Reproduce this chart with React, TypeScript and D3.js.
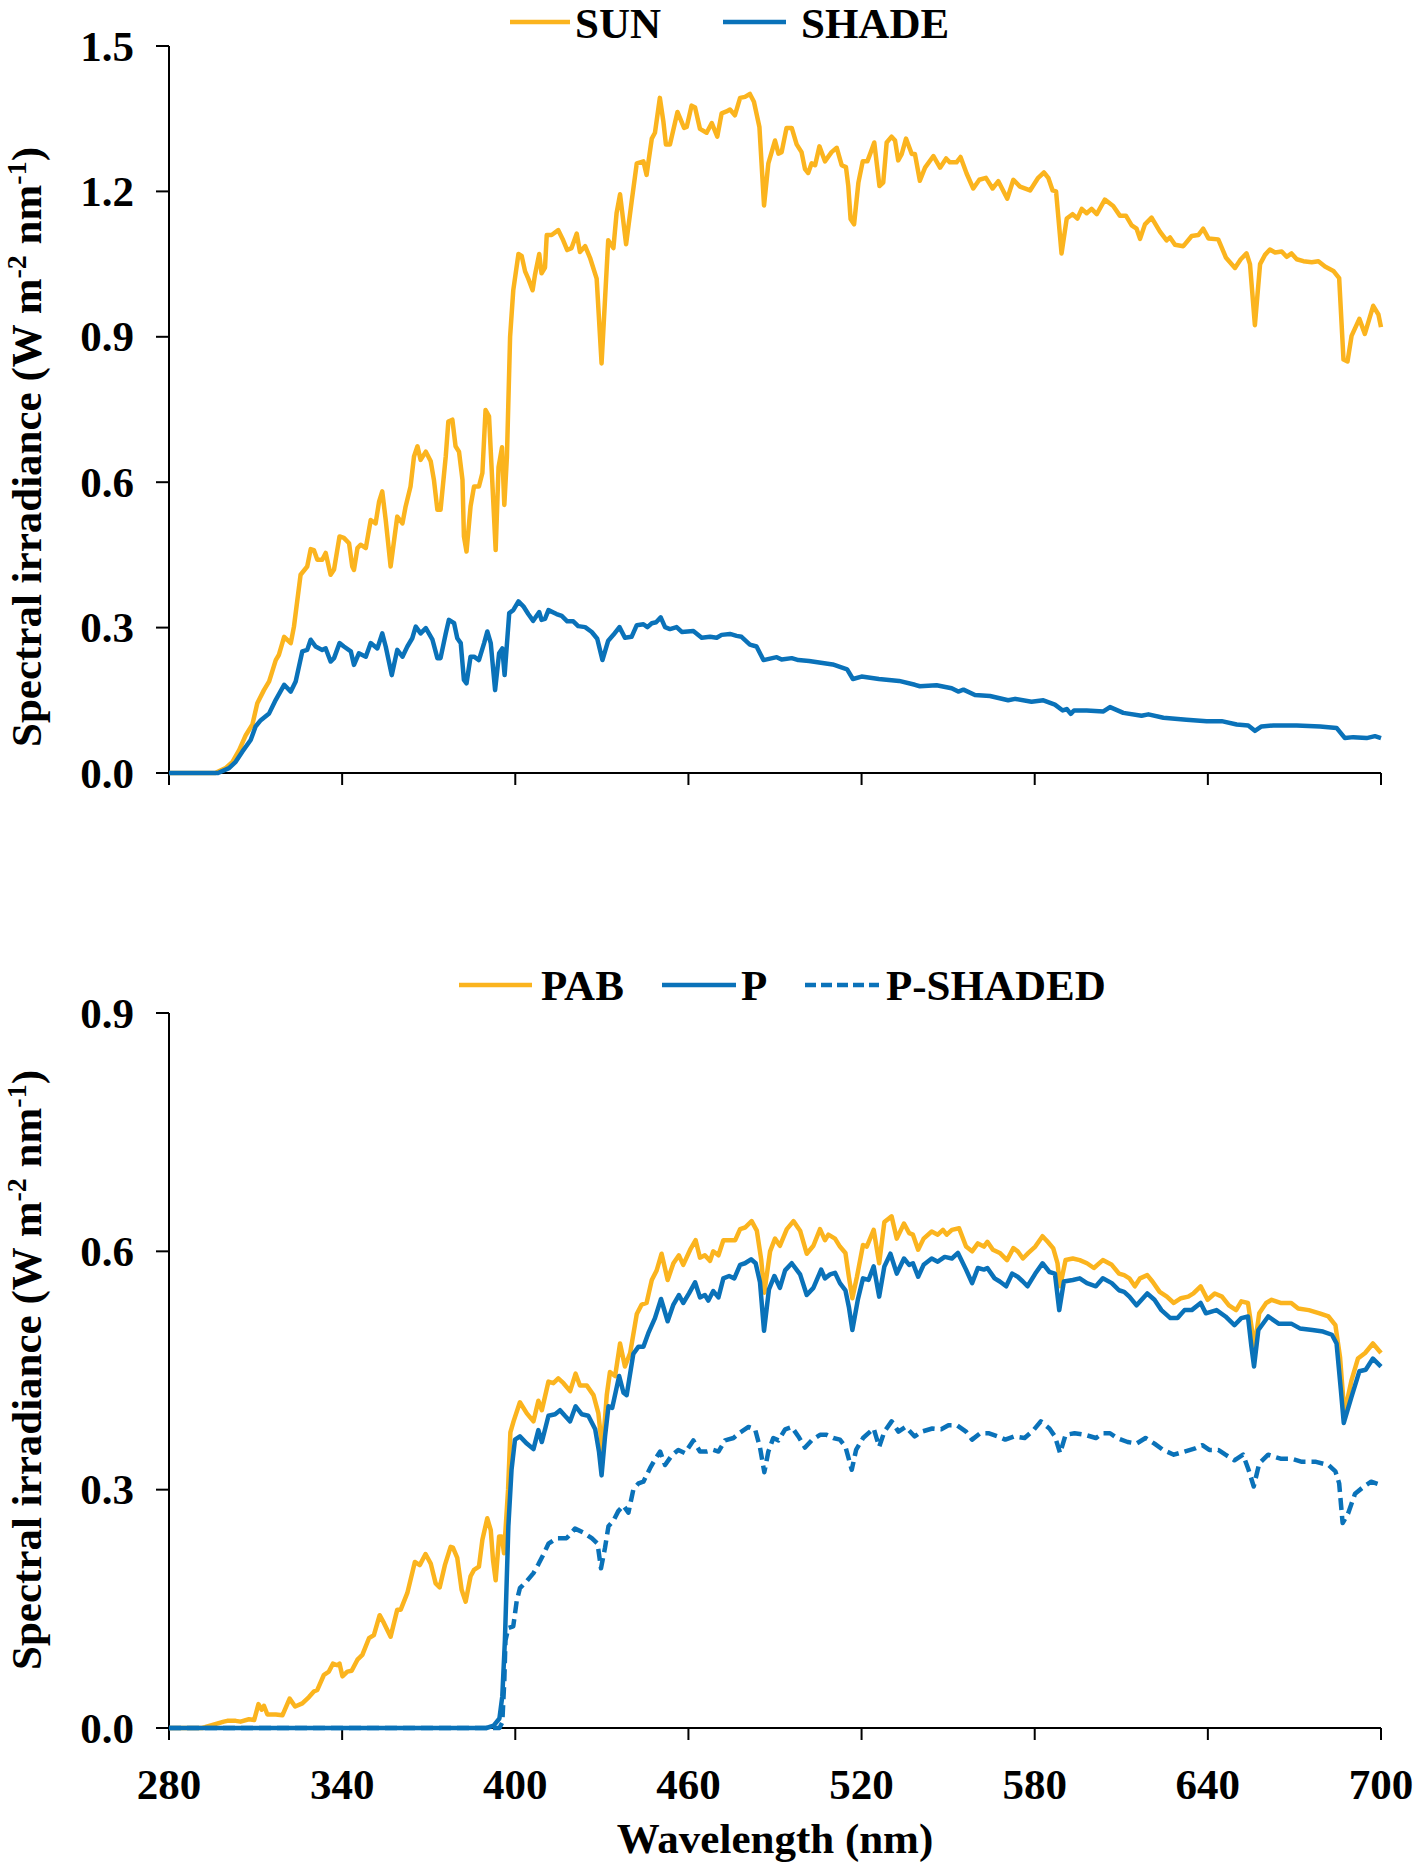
import React from "react";
import * as d3 from "d3";

type P = [number, number];

const X_TICKS = [280, 340, 400, 460, 520, 580, 640, 700];
const Y_TICKS_TOP = [0, 0.3, 0.6, 0.9, 1.2, 1.5];
const Y_TICKS_BOTTOM = [0, 0.3, 0.6, 0.9];

const SUN: P[] = [
[280,0],[296,0],[299.6,0.01],[302,0.023],[304.3,0.047],[306.6,0.078],[308.9,0.10],[310.6,0.144],[312.9,0.171],[314.7,0.189],[317,0.233],[318.1,0.244],[319.9,0.281],[322.2,0.268],[323.3,0.302],[325.6,0.409],[327.9,0.426],[329.1,0.462],[330.2,0.46],[331.4,0.44],[333.1,0.44],[334.3,0.454],[336,0.409],[337.2,0.42],[339.1,0.488],[340.6,0.485],[342.4,0.474],[343.5,0.426],[344.1,0.419],[345.3,0.464],[346.4,0.471],[348.2,0.464],[349.9,0.522],[351.6,0.515],[352.8,0.56],[353.9,0.581],[355.1,0.522],[356.8,0.426],[359.1,0.529],[360.9,0.515],[362,0.55],[363.7,0.591],[364.9,0.653],[366.1,0.674],[367.2,0.646],[369,0.663],[370.7,0.643],[371.8,0.605],[373,0.543],[374.1,0.543],[375.9,0.653],[376.8,0.725],[378.2,0.729],[379.3,0.674],[380.5,0.663],[381.7,0.605],[382.2,0.488],[383.1,0.457],[384.5,0.55],[385.7,0.591],[387.4,0.591],[388.6,0.619],[389.7,0.749],[390.9,0.736],[392,0.605],[393.2,0.46],[394.2,0.631],[395.4,0.672],[396.2,0.553],[397.1,0.652],[398.2,0.90],[399.3,0.996],[401.1,1.071],[402.2,1.067],[403.4,1.035],[404.5,1.02],[406,0.996],[406.8,1.027],[408.3,1.071],[409.1,1.031],[410.3,1.043],[410.9,1.11],[412.6,1.11],[414.9,1.12],[416.6,1.099],[418,1.079],[419.5,1.083],[421.3,1.113],[422.4,1.075],[424.2,1.087],[425.9,1.063],[428.2,1.02],[429.9,0.845],[432.2,1.099],[434,1.083],[435.1,1.155],[436.3,1.194],[438.4,1.091],[440.3,1.178],[442.1,1.258],[444.4,1.262],[445.5,1.234],[447.3,1.309],[448.4,1.321],[450.1,1.393],[451.3,1.345],[452.2,1.297],[453.6,1.297],[456.2,1.364],[458.5,1.331],[459.4,1.333],[461.1,1.377],[462.3,1.373],[464,1.329],[466.3,1.321],[468.1,1.341],[470,1.313],[471.5,1.361],[473.2,1.365],[474.4,1.369],[476.1,1.357],[477.9,1.393],[479.6,1.395],[481.3,1.401],[482.7,1.385],[484.6,1.333],[486.2,1.171],[487.7,1.258],[490,1.305],[491.2,1.278],[492.3,1.281],[494,1.331],[495.8,1.331],[497.5,1.297],[499.2,1.281],[500.4,1.246],[501.5,1.238],[502.7,1.258],[503.9,1.254],[505.4,1.293],[507.3,1.262],[509.6,1.281],[511.4,1.29],[513.1,1.254],[514.6,1.25],[515.4,1.211],[516.2,1.143],[517.4,1.132],[518.9,1.218],[520.4,1.262],[522,1.262],[523.2,1.281],[524.4,1.301],[526.2,1.211],[527.5,1.218],[528.7,1.301],[530.4,1.313],[531.6,1.305],[532.7,1.264],[533.9,1.277],[535.4,1.309],[537.4,1.277],[538.5,1.277],[540.2,1.222],[542,1.249],[544.9,1.273],[547.2,1.249],[549.3,1.268],[550.6,1.26],[552.9,1.26],[554.3,1.271],[556.4,1.237],[558.7,1.206],[560.8,1.224],[563.1,1.228],[565.4,1.206],[567.4,1.221],[570.5,1.185],[572.6,1.224],[574.9,1.21],[578.4,1.202],[581.2,1.228],[583.2,1.239],[584.7,1.228],[586.2,1.202],[587.4,1.2],[589.3,1.072],[591.1,1.144],[593.1,1.153],[594.8,1.144],[596.3,1.164],[598,1.155],[599.7,1.164],[601.5,1.153],[604.3,1.183],[607.2,1.17],[609.5,1.15],[611.6,1.15],[613.6,1.13],[615.3,1.123],[616.5,1.102],[618.2,1.132],[620.5,1.146],[623.4,1.117],[625.7,1.099],[626.9,1.105],[628.6,1.09],[631.5,1.087],[634.4,1.108],[636.7,1.11],[638.4,1.123],[640.2,1.103],[643.6,1.101],[646.3,1.063],[649.4,1.042],[651.4,1.06],[653.4,1.072],[654.6,1.05],[656.3,0.924],[658.1,1.05],[659.8,1.069],[661.5,1.08],[663.3,1.074],[665.6,1.076],[667.3,1.065],[669,1.072],[670.8,1.06],[673.1,1.056],[676,1.054],[678.3,1.056],[680.6,1.045],[683.5,1.036],[685.5,1.021],[687,0.853],[688.4,0.849],[689.8,0.902],[692.5,0.937],[694.4,0.906],[697.3,0.964],[699.1,0.946],[700,0.92]
];

const SHADE: P[] = [
[280,0],[297,0],[300.8,0.01],[303.1,0.023],[305.4,0.044],[308.3,0.068],[310,0.096],[311.8,0.109],[314.7,0.123],[317,0.151],[319.9,0.182],[322.2,0.168],[323.9,0.189],[326.2,0.251],[327.9,0.254],[329.1,0.275],[330.8,0.261],[333.1,0.254],[334.3,0.257],[336,0.23],[337.2,0.237],[339.1,0.268],[340.6,0.261],[343,0.251],[344.1,0.223],[345.8,0.247],[348.2,0.24],[349.9,0.268],[352.2,0.257],[353.9,0.288],[355.1,0.261],[357.2,0.202],[359.1,0.254],[360.9,0.24],[362.6,0.261],[364.3,0.278],[365.5,0.302],[367.2,0.288],[369,0.299],[371.3,0.275],[373,0.237],[374.1,0.237],[375.9,0.288],[377,0.316],[378.8,0.309],[379.9,0.278],[381.1,0.268],[382.2,0.192],[383.1,0.185],[384.5,0.24],[385.7,0.24],[387.4,0.233],[389.2,0.268],[390.3,0.292],[391.5,0.268],[393,0.171],[394.4,0.247],[395.5,0.257],[396.3,0.202],[397.9,0.330],[399.3,0.336],[401.1,0.354],[402.8,0.344],[404.5,0.328],[406.2,0.314],[408.3,0.332],[409.1,0.316],[410.3,0.318],[411.5,0.336],[414.3,0.328],[416.1,0.324],[418,0.313],[420.1,0.313],[421.8,0.303],[424.2,0.301],[426.5,0.291],[428.4,0.277],[430.2,0.233],[432.2,0.273],[434,0.285],[436.1,0.301],[438,0.279],[440.3,0.281],[442.1,0.305],[444.4,0.307],[445.8,0.301],[447.3,0.309],[448.8,0.311],[450.4,0.321],[451.9,0.301],[453.6,0.297],[455.9,0.301],[457.7,0.291],[461.7,0.293],[464.6,0.279],[467.5,0.281],[469.8,0.279],[471.5,0.285],[474.4,0.287],[476.7,0.283],[478.4,0.281],[481.3,0.265],[483.6,0.261],[486,0.233],[490.6,0.239],[492.3,0.234],[495.8,0.237],[498.1,0.233],[501.8,0.231],[510,0.224],[515,0.214],[517,0.194],[520,0.199],[526,0.194],[533,0.19],[538.5,0.182],[540.2,0.179],[546,0.181],[551.2,0.175],[553.5,0.168],[555.3,0.172],[559.3,0.161],[564.5,0.159],[570.8,0.150],[573.2,0.153],[578.9,0.147],[583,0.150],[587,0.141],[589.7,0.129],[591.1,0.132],[592.5,0.122],[593.6,0.129],[598,0.129],[603.8,0.127],[606.1,0.136],[610.7,0.124],[617,0.118],[619.4,0.121],[624.6,0.114],[632.6,0.11],[639.6,0.107],[644.8,0.107],[650,0.1],[654,0.098],[656.3,0.087],[658.6,0.096],[662.7,0.098],[670.8,0.098],[678.9,0.096],[684.6,0.093],[687.5,0.072],[690.4,0.074],[695,0.072],[697.9,0.076],[700,0.072]
];

const PAB: P[] = [
[280,0],[291.5,0],[293.9,0.0025],[299,0.008],[300.2,0.009],[303.1,0.009],[304.8,0.008],[307.7,0.011],[309.5,0.01],[311,0.03],[312.1,0.023],[312.9,0.028],[314.1,0.017],[317,0.017],[319.3,0.016],[321.8,0.037],[323.7,0.027],[326.2,0.031],[328.5,0.039],[330.2,0.046],[331.4,0.048],[333.7,0.067],[335.4,0.071],[336.8,0.081],[338.3,0.079],[339.1,0.081],[340.1,0.065],[341.8,0.071],[343.3,0.072],[345.3,0.086],[347,0.092],[349.3,0.113],[351,0.117],[353,0.142],[354.5,0.132],[356.8,0.115],[359.1,0.149],[360.3,0.149],[362.6,0.17],[365.2,0.209],[366.9,0.205],[368.9,0.219],[370.7,0.207],[372.4,0.182],[373.8,0.177],[375.6,0.205],[377.6,0.228],[378.4,0.227],[379.9,0.214],[381.4,0.174],[382.8,0.159],[384.5,0.191],[385.7,0.199],[387.4,0.203],[388.6,0.237],[390.3,0.264],[391.5,0.249],[392.3,0.211],[393.2,0.186],[394.4,0.241],[395.3,0.241],[396.1,0.22],[397.5,0.3],[398.3,0.372],[399.4,0.386],[401.6,0.41],[404,0.396],[406.3,0.386],[408,0.412],[409.2,0.4],[411.5,0.436],[413.2,0.434],[414.9,0.44],[416.7,0.434],[419,0.424],[420.9,0.446],[422.4,0.431],[424.8,0.431],[427.1,0.419],[428.8,0.396],[430.2,0.348],[431.7,0.419],[432.8,0.448],[434.6,0.443],[436.3,0.484],[438,0.455],[439.8,0.472],[442.1,0.521],[443.8,0.533],[445.5,0.535],[447.3,0.564],[449,0.576],[450.7,0.597],[452.8,0.564],[454.8,0.585],[456.7,0.595],[458.2,0.583],[460.6,0.602],[462.5,0.614],[464,0.592],[465.7,0.595],[467.5,0.588],[468.6,0.6],[470.4,0.595],[472.1,0.614],[474.4,0.614],[476.2,0.614],[477.9,0.628],[479.6,0.63],[481.9,0.638],[483.7,0.626],[485.2,0.59],[486.3,0.548],[488.3,0.6],[490,0.616],[491.7,0.607],[494.1,0.628],[496.4,0.638],[498.7,0.626],[501,0.597],[503.3,0.607],[505.6,0.628],[507.3,0.614],[508.5,0.621],[510.8,0.616],[512.5,0.606],[514.4,0.598],[515.6,0.568],[516.8,0.541],[518.4,0.568],[520.5,0.608],[521.8,0.606],[524.2,0.627],[526.1,0.585],[527.9,0.637],[530.4,0.644],[532.2,0.616],[534.7,0.635],[536.5,0.623],[537.8,0.621],[539.6,0.602],[541.5,0.616],[544.3,0.625],[546.4,0.621],[548.2,0.627],[549.5,0.621],[551.3,0.627],[553.8,0.629],[556.2,0.606],[558.3,0.6],[560.3,0.61],[562.4,0.606],[563.6,0.612],[565.5,0.602],[567.9,0.598],[570.4,0.589],[572.6,0.604],[574.1,0.6],[575.9,0.591],[577.8,0.598],[580.2,0.606],[582.7,0.619],[584.5,0.612],[586.4,0.604],[587.9,0.585],[588.8,0.556],[590.7,0.589],[593.2,0.591],[595.6,0.589],[598.1,0.585],[600.5,0.579],[603.6,0.589],[606.7,0.583],[609.2,0.572],[611,0.57],[612.8,0.566],[614.7,0.556],[616.5,0.566],[619,0.57],[620.8,0.562],[623.3,0.549],[625.8,0.543],[628.2,0.535],[630.7,0.541],[633.2,0.543],[635,0.547],[637.5,0.556],[639.9,0.539],[642.4,0.547],[644.9,0.543],[647.3,0.532],[649.8,0.526],[651.6,0.537],[653.9,0.535],[655.3,0.501],[656.2,0.48],[657.8,0.522],[660.2,0.535],[662.1,0.539],[665.2,0.535],[668.9,0.535],[671.3,0.528],[675,0.526],[678.7,0.522],[681.8,0.518],[684.2,0.507],[685.8,0.467],[687.3,0.396],[689.8,0.438],[692,0.465],[694.5,0.472],[697.2,0.484],[700,0.472]
];

const P_SUN: P[] = [
[280,0],[390,0],[392.5,0.003],[394.5,0.012],[395.5,0.04],[396.4,0.11],[397.6,0.254],[398.7,0.325],[399.9,0.363],[401.6,0.367],[404,0.358],[406.3,0.351],[408,0.375],[409.2,0.36],[411.5,0.393],[413.8,0.395],[415.5,0.4],[417.2,0.393],[419,0.386],[420.9,0.405],[423,0.395],[425.3,0.393],[427.7,0.376],[429,0.348],[429.9,0.318],[431.1,0.367],[432.3,0.405],[433.6,0.403],[436,0.443],[437.5,0.422],[438.6,0.419],[440.9,0.471],[442.7,0.48],[444.4,0.48],[446.1,0.497],[448.4,0.516],[450.5,0.54],[452.8,0.512],[454.8,0.533],[456.7,0.545],[458.2,0.535],[460.2,0.547],[462.3,0.561],[464,0.542],[465.7,0.545],[466.9,0.538],[468.6,0.55],[470.4,0.542],[472.1,0.566],[474.1,0.569],[475.9,0.566],[477.9,0.583],[479.6,0.585],[481.7,0.59],[483.3,0.585],[484.8,0.561],[486.2,0.5],[487.9,0.552],[489.8,0.569],[491.7,0.554],[493.5,0.576],[495.8,0.585],[498.7,0.571],[501,0.545],[503.3,0.554],[506,0.577],[507.3,0.566],[509.1,0.571],[510.8,0.573],[512.5,0.56],[514.4,0.551],[515.6,0.53],[516.8,0.501],[518.7,0.539],[520.5,0.566],[522.4,0.564],[524.2,0.581],[526.1,0.543],[527.9,0.581],[530,0.597],[532.2,0.572],[534.7,0.591],[536.5,0.583],[537.8,0.585],[539.6,0.568],[541.5,0.583],[544.3,0.591],[546.4,0.587],[548.8,0.593],[551.3,0.591],[553.4,0.598],[556.2,0.577],[558.3,0.56],[560.3,0.579],[562.4,0.577],[563.6,0.579],[566.1,0.566],[567.9,0.562],[570.1,0.556],[572.2,0.572],[574.1,0.568],[575.9,0.562],[577.5,0.556],[580.2,0.572],[582.7,0.585],[585.1,0.574],[587,0.572],[588.5,0.526],[590.1,0.562],[593.2,0.564],[595.6,0.566],[598.1,0.56],[601.2,0.556],[603.6,0.566],[606.7,0.56],[609.2,0.551],[611,0.549],[612.8,0.543],[615.3,0.532],[619,0.547],[621.5,0.539],[623.9,0.526],[627,0.516],[629.5,0.516],[631.9,0.526],[634.4,0.526],[637.5,0.535],[639.3,0.522],[643,0.526],[646.1,0.518],[649.2,0.507],[651.6,0.516],[653.9,0.518],[655.1,0.48],[656,0.455],[657.5,0.501],[660.9,0.518],[664.5,0.509],[668.9,0.509],[671.9,0.503],[676.2,0.501],[679.9,0.499],[683,0.495],[684.6,0.484],[686.1,0.425],[687.1,0.384],[689.8,0.417],[692.5,0.449],[694.7,0.451],[697.2,0.465],[700,0.455]
];

const P_SHADED: P[] = [
[280,0],[394.5,0],[395.5,0.007],[396.2,0.06],[396.6,0.11],[397.6,0.126],[399.3,0.128],[400.5,0.16],[401.6,0.176],[404,0.185],[406.3,0.195],[408,0.206],[409.7,0.218],[411.5,0.232],[414.4,0.239],[417.8,0.239],[420.7,0.251],[423.6,0.246],[426.5,0.239],[428.5,0.232],[429.7,0.201],[431.1,0.227],[432.3,0.254],[434,0.261],[435.7,0.273],[437.5,0.28],[439.2,0.271],[440.9,0.3],[442.7,0.308],[444.4,0.31],[446.7,0.327],[448.4,0.338],[450.2,0.348],[451.9,0.331],[454.2,0.343],[456.5,0.35],[458.8,0.346],[461.7,0.362],[464,0.348],[466.3,0.348],[468.6,0.35],[470.4,0.348],[472.7,0.362],[475.6,0.365],[477.9,0.372],[480.8,0.379],[483.1,0.376],[484.8,0.353],[486.3,0.322],[487.7,0.348],[489.4,0.365],[491.2,0.362],[493.5,0.376],[495.8,0.379],[498.1,0.367],[500.4,0.353],[502.7,0.362],[505.6,0.369],[507.9,0.369],[510.2,0.365],[512.5,0.363],[514.4,0.354],[516.6,0.325],[518.1,0.35],[520.5,0.365],[524.2,0.377],[526.1,0.354],[527.9,0.373],[530.4,0.386],[532.8,0.373],[535.3,0.379],[538.4,0.367],[540.8,0.373],[544.5,0.377],[547.6,0.376],[550.1,0.381],[553.1,0.381],[556.2,0.373],[558.3,0.363],[561.1,0.371],[564.2,0.371],[567.3,0.367],[569.8,0.363],[572.8,0.367],[576.5,0.365],[579.6,0.375],[582.1,0.386],[585.1,0.377],[587,0.367],[588.8,0.346],[590.7,0.369],[593.8,0.371],[597.5,0.369],[601.2,0.365],[603.6,0.371],[606.1,0.371],[608.5,0.365],[612.2,0.36],[615.3,0.358],[618.4,0.365],[621.5,0.358],[624.5,0.35],[628.2,0.344],[631.9,0.348],[635.6,0.352],[638.1,0.356],[640.5,0.35],[643.6,0.35],[646.1,0.344],[649.2,0.337],[652.2,0.344],[654.1,0.325],[655.9,0.304],[657.8,0.333],[660.9,0.344],[665.2,0.339],[668.9,0.339],[672.6,0.335],[677.5,0.335],[681.8,0.331],[684.2,0.323],[685.5,0.308],[686.7,0.258],[688.6,0.27],[691,0.295],[694.1,0.304],[696.6,0.31],[700,0.306]
];

const ORANGE = "#FBB41E";
const BLUE = "#0A72B9";
const FONT = "'Liberation Serif', 'Times New Roman', Times, serif";
const FS = 43;

const W = 1418;
const H = 1865;
const LEFT = 169;
const RIGHT = 1381;

const x = d3.scaleLinear().domain([280, 700]).range([LEFT, RIGHT]);
const yTop = d3.scaleLinear().domain([0, 1.5]).range([773, 46]);
const yBot = d3.scaleLinear().domain([0, 0.9]).range([1728, 1013]);

function YTitle({ cx, cy }: { cx: number; cy: number }) {
  return (
    <text
      transform={`translate(${cx},${cy}) rotate(-90)`}
      textAnchor="middle"
      fontFamily={FONT}
      fontWeight="bold"
      fontSize={FS}
      fill="#000"
    >
      Spectral irradiance (W m
      <tspan dy={-15} fontSize={28}>-2</tspan>
      <tspan dy={15}> nm</tspan>
      <tspan dy={-15} fontSize={28}>-1</tspan>
      <tspan dy={15}>)</tspan>
    </text>
  );
}

function Panel({
  y,
  ticks,
  showXLabels,
}: {
  y: d3.ScaleLinear<number, number>;
  ticks: number[];
  showXLabels: boolean;
}) {
  const y0 = y(0);
  const yTopPx = y(ticks[ticks.length - 1]);
  return (
    <g>
      <line x1={LEFT} x2={LEFT} y1={yTopPx} y2={y0} stroke="#000" strokeWidth={2} />
      <line x1={LEFT} x2={RIGHT} y1={y0} y2={y0} stroke="#000" strokeWidth={2} />
      {ticks.map((t) => (
        <g key={`y${t}`}>
          <line x1={LEFT - 13} x2={LEFT} y1={y(t)} y2={y(t)} stroke="#000" strokeWidth={2} />
          <text
            x={134}
            y={y(t)}
            dy="0.34em"
            textAnchor="end"
            fontFamily={FONT}
            fontWeight="bold"
            fontSize={FS}
          >
            {t.toFixed(1)}
          </text>
        </g>
      ))}
      {X_TICKS.map((t) => (
        <g key={`x${t}`}>
          <line x1={x(t)} x2={x(t)} y1={y0} y2={y0 + 12} stroke="#000" strokeWidth={2} />
          {showXLabels && (
            <text
              x={x(t)}
              y={1799}
              textAnchor="middle"
              fontFamily={FONT}
              fontWeight="bold"
              fontSize={FS}
            >
              {t}
            </text>
          )}
        </g>
      ))}
    </g>
  );
}

export default function App() {
  const lineTop = d3
    .line<P>()
    .x((d) => x(d[0]))
    .y((d) => yTop(d[1]));
  const lineBot = d3
    .line<P>()
    .x((d) => x(d[0]))
    .y((d) => yBot(d[1]));

  const lw = 4.5;
  const legendText = (tx: number, ty: number, label: string) => (
    <text x={tx} y={ty} fontFamily={FONT} fontWeight="bold" fontSize={FS}>
      {label}
    </text>
  );

  return (
    <svg
      width={W}
      height={H}
      viewBox={`0 0 ${W} ${H}`}
      style={{ position: "absolute", left: 0, top: 0, background: "#fff" }}
    >
      <rect x={0} y={0} width={W} height={H} fill="#fff" />

      {/* top panel */}
      <Panel y={yTop} ticks={Y_TICKS_TOP} showXLabels={false} />
      <path d={lineTop(SUN) || ""} fill="none" stroke={ORANGE} strokeWidth={lw} strokeLinejoin="round" />
      <path d={lineTop(SHADE) || ""} fill="none" stroke={BLUE} strokeWidth={lw} strokeLinejoin="round" />
      <YTitle cx={41} cy={447} />

      {/* top legend */}
      <line x1={510} x2={570} y1={22} y2={22} stroke={ORANGE} strokeWidth={lw} />
      {legendText(575, 38, "SUN")}
      <line x1={723} x2={786} y1={22} y2={22} stroke={BLUE} strokeWidth={lw} />
      {legendText(801, 38, "SHADE")}

      {/* bottom panel */}
      <Panel y={yBot} ticks={Y_TICKS_BOTTOM} showXLabels={true} />
      <path d={lineBot(PAB) || ""} fill="none" stroke={ORANGE} strokeWidth={lw} strokeLinejoin="round" />
      <path d={lineBot(P_SUN) || ""} fill="none" stroke={BLUE} strokeWidth={lw} strokeLinejoin="round" />
      <path
        d={lineBot(P_SHADED) || ""}
        fill="none"
        stroke={BLUE}
        strokeWidth={lw}
        strokeDasharray="12 6"
        strokeLinejoin="round"
      />
      <YTitle cx={41} cy={1370} />

      {/* bottom legend */}
      <line x1={459} x2={532} y1={985} y2={985} stroke={ORANGE} strokeWidth={lw} />
      {legendText(541, 1000, "PAB")}
      <line x1={662} x2={736} y1={985} y2={985} stroke={BLUE} strokeWidth={lw} />
      {legendText(741, 1000, "P")}
      <line x1={805} x2={879} y1={985} y2={985} stroke={BLUE} strokeWidth={lw} strokeDasharray="11 5" />
      {legendText(886, 1000, "P-SHADED")}

      <text
        x={(LEFT + RIGHT) / 2}
        y={1853}
        textAnchor="middle"
        fontFamily={FONT}
        fontWeight="bold"
        fontSize={FS}
      >
        Wavelength (nm)
      </text>
    </svg>
  );
}
